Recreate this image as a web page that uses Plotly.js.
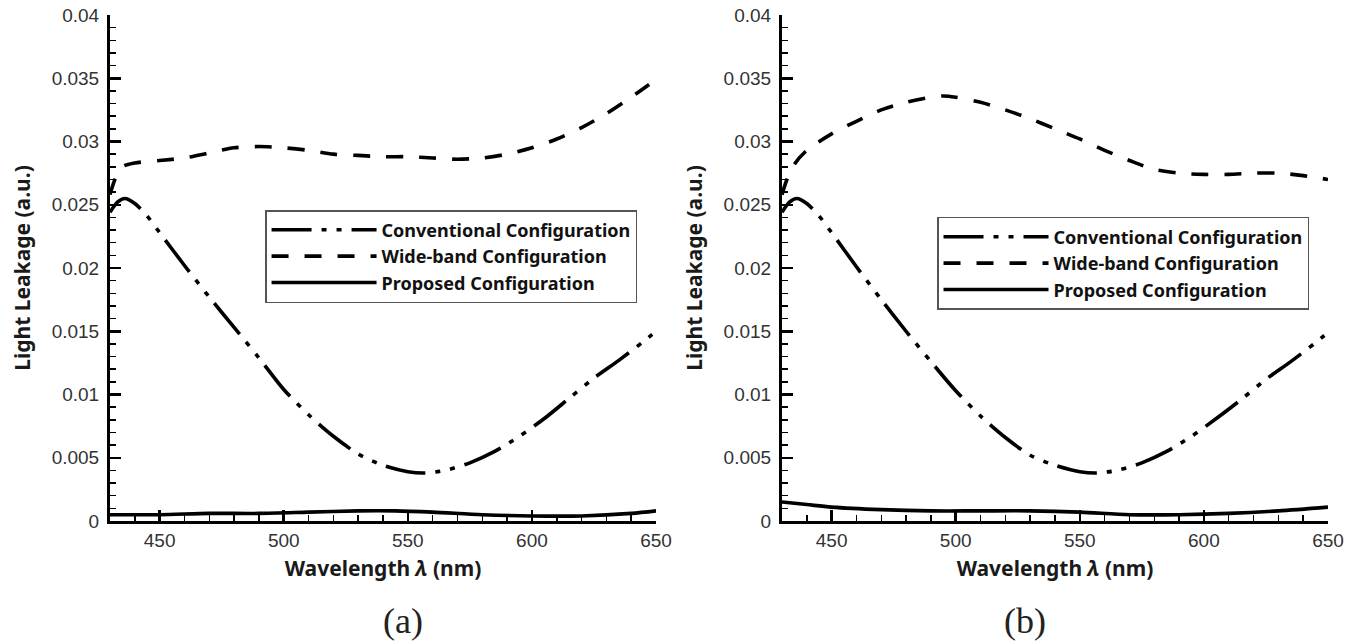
<!DOCTYPE html>
<html>
<head>
<meta charset="utf-8">
<script src="https://cdn.plot.ly/plotly-3.0.1.min.js"></script>
<style>html,body{margin:0;padding:0;background:#fff;}#chart{width:1364px;height:644px;}</style>
</head>
<body>
<div id="chart"></div>
<script>
// ---- Data ----
const seriesNames = ['Conventional Configuration', 'Wide-band Configuration', 'Proposed Configuration'];
const xTickVals = [450, 500, 550, 600, 650];

// Panel (a)
const convA_x = [430,433,436,440,445,450,460,470,480,490,500,510,520,530,540,550,557,565,575,585,595,605,615,625,635,645,650];
const convA_y = [0.0244,0.0252,0.0255,0.0251,0.0241,0.0228,0.0202,0.0177,0.0153,0.0129,0.0104,0.0084,0.0067,0.0053,0.0044,0.0039,0.0038,0.0040,0.0046,0.0055,0.0067,0.0081,0.0097,0.0113,0.0127,0.0142,0.0150];
const wideA_x = [430,432,435,440,450,460,470,480,490,500,510,520,530,540,550,560,570,580,590,600,610,620,630,640,650];
const wideA_y = [0.0258,0.0270,0.0280,0.0283,0.0285,0.0287,0.0291,0.0295,0.0296,0.0295,0.0293,0.0290,0.0289,0.0288,0.0288,0.0287,0.0286,0.0287,0.0290,0.0295,0.0302,0.0311,0.0322,0.0335,0.0349];
const propA_x = [430,450,470,490,510,530,545,560,580,600,620,640,650];
const propA_y = [0.0005,0.0005,0.0006,0.0006,0.0007,0.0008,0.0008,0.0007,0.0005,0.0004,0.0004,0.0006,0.0008];

// Panel (b)
const convB_x = [430,433,436,440,445,450,460,470,480,490,500,510,520,530,540,550,557,565,575,585,595,605,615,625,635,645,650];
const convB_y = [0.0244,0.0252,0.0255,0.0251,0.0241,0.0228,0.0201,0.0175,0.0150,0.0126,0.0103,0.0083,0.0066,0.0052,0.0044,0.0039,0.0038,0.0040,0.0046,0.0055,0.0067,0.0081,0.0096,0.0112,0.0126,0.0141,0.0149];
const wideB_x = [430,432,435,440,450,460,470,480,490,495,500,510,520,530,540,550,560,570,580,590,600,610,620,630,640,650];
const wideB_y = [0.0258,0.0270,0.0282,0.0293,0.0306,0.0316,0.0325,0.0331,0.0335,0.0336,0.0335,0.0331,0.0325,0.0318,0.0310,0.0302,0.0293,0.0285,0.0278,0.0275,0.0274,0.0274,0.0275,0.0275,0.0273,0.0270];
const propB_x = [430,440,450,470,490,510,530,550,570,590,610,630,650];
const propB_y = [0.0015,0.0013,0.0011,0.0009,0.0008,0.0008,0.0008,0.0007,0.0005,0.0005,0.0006,0.0008,0.0011];

// ---- Styles ----
const dashes = ['40px,10px,5px,10px,5px,10px', '17px,16px', 'solid'];
const lw = 3.6;

function mk(x, y, i, xa, ya, leg) {
  return {
    x: x, y: y, type: 'scatter', mode: 'lines', name: seriesNames[i],
    xaxis: xa, yaxis: ya, legend: leg,
    line: {color: '#000', width: lw, dash: dashes[i], shape: 'spline', smoothing: 0.8},
    hoverinfo: 'x+y'
  };
}

const traces = [
  mk(convA_x, convA_y, 0, 'x', 'y', 'legend'),
  mk(wideA_x, wideA_y, 1, 'x', 'y', 'legend'),
  mk(propA_x, propA_y, 2, 'x', 'y', 'legend'),
  mk(convB_x, convB_y, 0, 'x2', 'y2', 'legend2'),
  mk(wideB_x, wideB_y, 1, 'x2', 'y2', 'legend2'),
  mk(propB_x, propB_y, 2, 'x2', 'y2', 'legend2')
];

const tickFont = {family: 'Liberation Sans, Arial, sans-serif', size: 19, color: '#333'};
const titleFont = {family: 'Noto Sans, sans-serif', size: 21, color: '#1a1a1a', weight: 'bold'};

function xAxis(domain, anchor) {
  return {
    domain: domain, anchor: anchor, range: [430, 650],
    showgrid: false, zeroline: false, showline: true, linecolor: '#000', linewidth: 3,
    ticks: 'inside', ticklen: 11, tickwidth: 2.5, tickcolor: '#000',
    tickvals: xTickVals,
    minor: {ticks: 'inside', ticklen: 6, tickwidth: 1.5, tickcolor: '#000', dtick: 10, tick0: 430},
    tickfont: tickFont,
    title: {text: 'Wavelength <i>λ</i> (nm)', font: titleFont, standoff: 12}
  };
}
function yAxis(anchor) {
  return {
    domain: [0, 1], anchor: anchor, range: [0, 0.04],
    showgrid: false, zeroline: false, showline: true, linecolor: '#000', linewidth: 3,
    ticks: 'inside', ticklen: 11, tickwidth: 2.5, tickcolor: '#000',
    dtick: 0.005, tick0: 0,
    minor: {ticks: 'inside', ticklen: 6, tickwidth: 1.5, tickcolor: '#000', dtick: 0.001},
    tickfont: tickFont, ticklabelstandoff: 4,
    title: {text: 'Light Leakage (a.u.)', font: titleFont, standoff: 16}
  };
}

const legendBase = {
  xanchor: 'left', yanchor: 'top', bgcolor: '#fff', bordercolor: '#555', borderwidth: 1.5,
  font: {family: 'Noto Sans, sans-serif', size: 18, color: '#111', weight: 'bold'},
  itemwidth: 105, tracegroupgap: 0
};

const layout = {
  width: 1364, height: 644,
  margin: {l: 110, r: 36, t: 15, b: 123},
  paper_bgcolor: '#fff', plot_bgcolor: '#fff',
  showlegend: true,
  xaxis: xAxis([0, 0.4483], 'y'),
  yaxis: yAxis('x'),
  xaxis2: xAxis([0.5517, 1], 'y2'),
  yaxis2: yAxis('x2'),
  legend: Object.assign({}, legendBase, {x: 0.1273, y: 0.6146}),
  legend2: Object.assign({}, legendBase, {x: 0.679, y: 0.6008}),
  annotations: [
    {text: '(a)', xref: 'paper', yref: 'paper', x: 0.2225, y: -0.1976, yanchor: 'middle', showarrow: false,
     font: {family: 'Liberation Serif, Times New Roman, serif', size: 36, color: '#222'}},
    {text: '(b)', xref: 'paper', yref: 'paper', x: 0.770, y: -0.1976, yanchor: 'middle', showarrow: false,
     font: {family: 'Liberation Serif, Times New Roman, serif', size: 36, color: '#222'}}
  ]
};

Plotly.newPlot('chart', traces, layout, {displayModeBar: false, staticPlot: true});
</script>
</body>
</html>
